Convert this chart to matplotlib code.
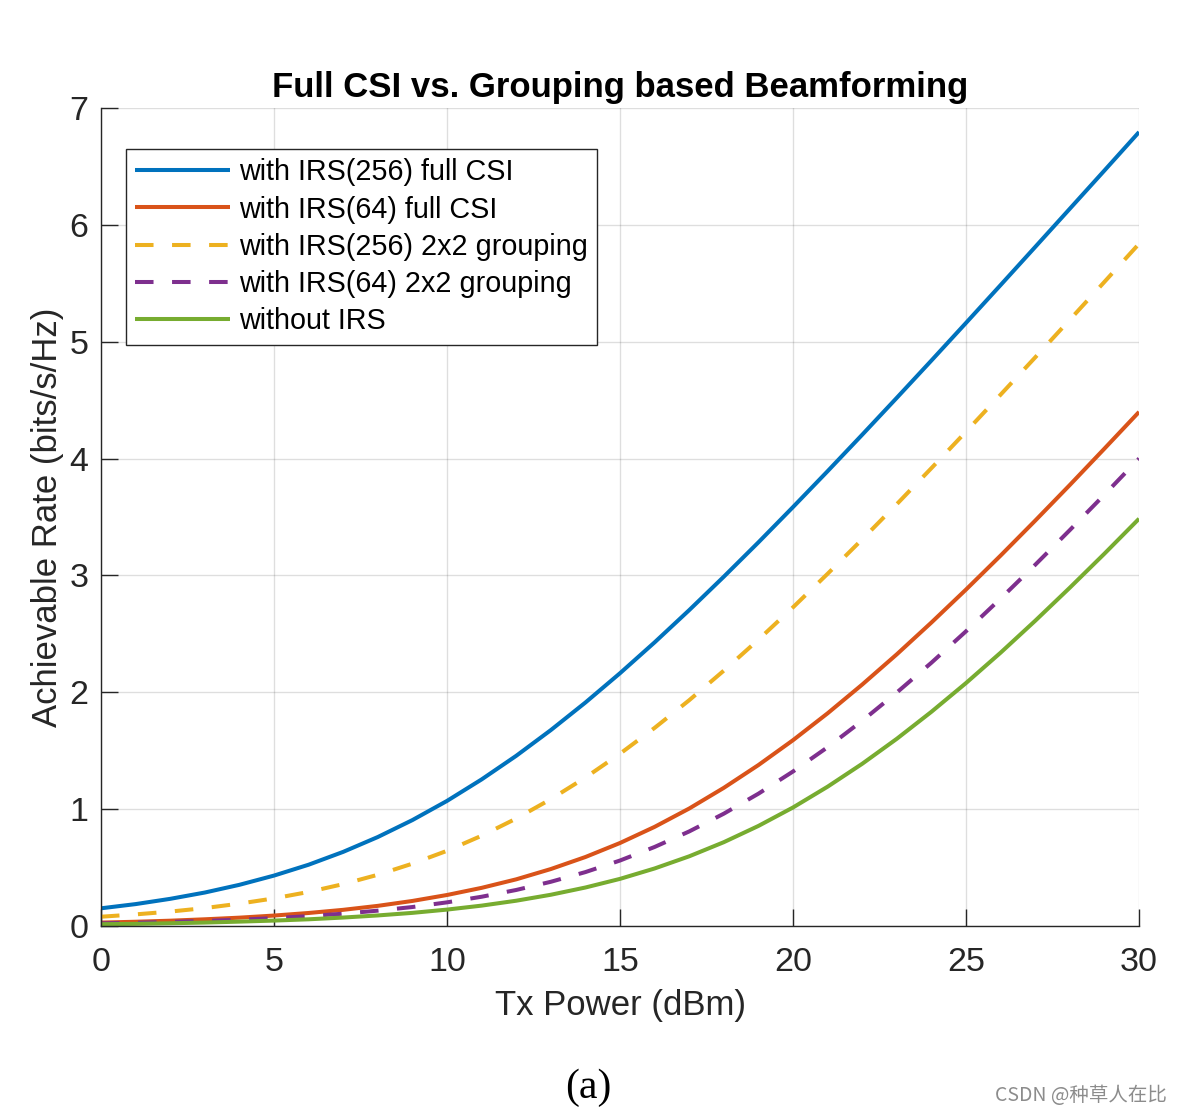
import numpy as np
import matplotlib
matplotlib.use("Agg")
import matplotlib.pyplot as plt

tx_power = list(range(0, 31))
irs256_full = [0.151, 0.187, 0.232, 0.286, 0.352, 0.431, 0.524, 0.634, 0.761, 0.906,
               1.070, 1.254, 1.456, 1.676, 1.912, 2.163, 2.427, 2.703, 2.989, 3.283,
               3.585, 3.892, 4.204, 4.520, 4.839, 5.161, 5.485, 5.811, 6.138, 6.465, 6.794]
irs64_full = [0.029, 0.036, 0.045, 0.057, 0.071, 0.089, 0.111, 0.138, 0.172, 0.214,
              0.265, 0.326, 0.399, 0.487, 0.590, 0.710, 0.848, 1.005, 1.182, 1.377,
              1.590, 1.820, 2.066, 2.325, 2.597, 2.879, 3.170, 3.469, 3.774, 4.085, 4.399]
irs256_group = [0.079, 0.099, 0.123, 0.153, 0.191, 0.236, 0.291, 0.358, 0.438, 0.533,
                0.643, 0.772, 0.919, 1.085, 1.270, 1.474, 1.695, 1.932, 2.185, 2.450,
                2.727, 3.014, 3.309, 3.610, 3.918, 4.230, 4.547, 4.866, 5.188, 5.512, 5.838]
irs64_group = [0.022, 0.027, 0.034, 0.043, 0.053, 0.067, 0.084, 0.105, 0.131, 0.162,
               0.202, 0.250, 0.308, 0.378, 0.461, 0.560, 0.676, 0.809, 0.961, 1.132,
               1.322, 1.530, 1.756, 1.998, 2.253, 2.522, 2.802, 3.091, 3.388, 3.691, 4.000]
no_irs = [0.015, 0.018, 0.023, 0.029, 0.037, 0.046, 0.057, 0.072, 0.090, 0.112,
          0.140, 0.174, 0.216, 0.267, 0.329, 0.403, 0.492, 0.596, 0.717, 0.856,
          1.014, 1.192, 1.388, 1.602, 1.833, 2.079, 2.339, 2.612, 2.895, 3.186, 3.485]

labels = ["with IRS(256) full CSI", "with IRS(64) full CSI",
          "with IRS(256) 2x2 grouping", "with IRS(64) 2x2 grouping", "without IRS"]
colors = ["#0072BD", "#D95319", "#EDB120", "#7E2F8E", "#77AC30"]
dashed = [False, False, True, True, False]
series = [irs256_full, irs64_full, irs256_group, irs64_group, no_irs]

plt.rcParams['font.family'] = ['Liberation Sans', 'DejaVu Sans']
fig = plt.figure(figsize=(11.81, 11.14), dpi=100)
ax = fig.add_axes([0.0855, 0.1688, 0.879, 0.7343])

for ys, lab, c, d in zip(series, labels, colors, dashed):
    ln, = ax.plot(tx_power, ys, color=c, lw=2.9, label=lab, solid_capstyle='butt')
    if d:
        ln.set_dashes((4.6, 4.6))
        ln.set_dash_capstyle('butt')

ax.set_xlim(0, 30)
ax.set_ylim(0, 7)
ax.set_xticks([0, 5, 10, 15, 20, 25, 30])
ax.set_yticks(range(0, 8))
ax.grid(True, color='#262626', alpha=0.15, lw=1.0)
ax.set_axisbelow(True)
for s in ['top', 'right']:
    ax.spines[s].set_visible(False)
for s in ['left', 'bottom']:
    ax.spines[s].set_color('#262626')
    ax.spines[s].set_linewidth(1.0)
ax.tick_params(direction='in', length=12, width=1.0, colors='#262626',
               labelsize=24.5)
ax.tick_params(axis='x', pad=15)
ax.tick_params(axis='y', pad=9)
ax.set_xlabel("Tx Power (dBm)", fontsize=25, color='#262626', labelpad=8)
ax.set_ylabel("Achievable Rate (bits/s/Hz)", fontsize=25, color='#262626', labelpad=4)
ax.set_title("Full CSI vs. Grouping based Beamforming", fontsize=25,
             fontweight='bold', color='black', pad=8)

leg = ax.legend(loc='upper left', bbox_to_anchor=(0.024, 0.950), fontsize=20.7,
                handlelength=3.3, handletextpad=0.3, labelspacing=0.32,
                borderpad=0.33, borderaxespad=0.0, fancybox=False, framealpha=1)
leg.get_frame().set_edgecolor('#262626')
leg.get_frame().set_linewidth(1.0)

fig.text(0.498, 0.014, "(a)", fontsize=30, family=['Liberation Serif'], ha='center',
         va='baseline', color='black')
fig.text(0.988, 0.012, "CSDN @种草人在比", fontsize=14, color='#8c8c8c', ha='right',
         va='baseline', family=['Noto Sans CJK SC', 'DejaVu Sans'])

fig.savefig("out.png", dpi=100)
